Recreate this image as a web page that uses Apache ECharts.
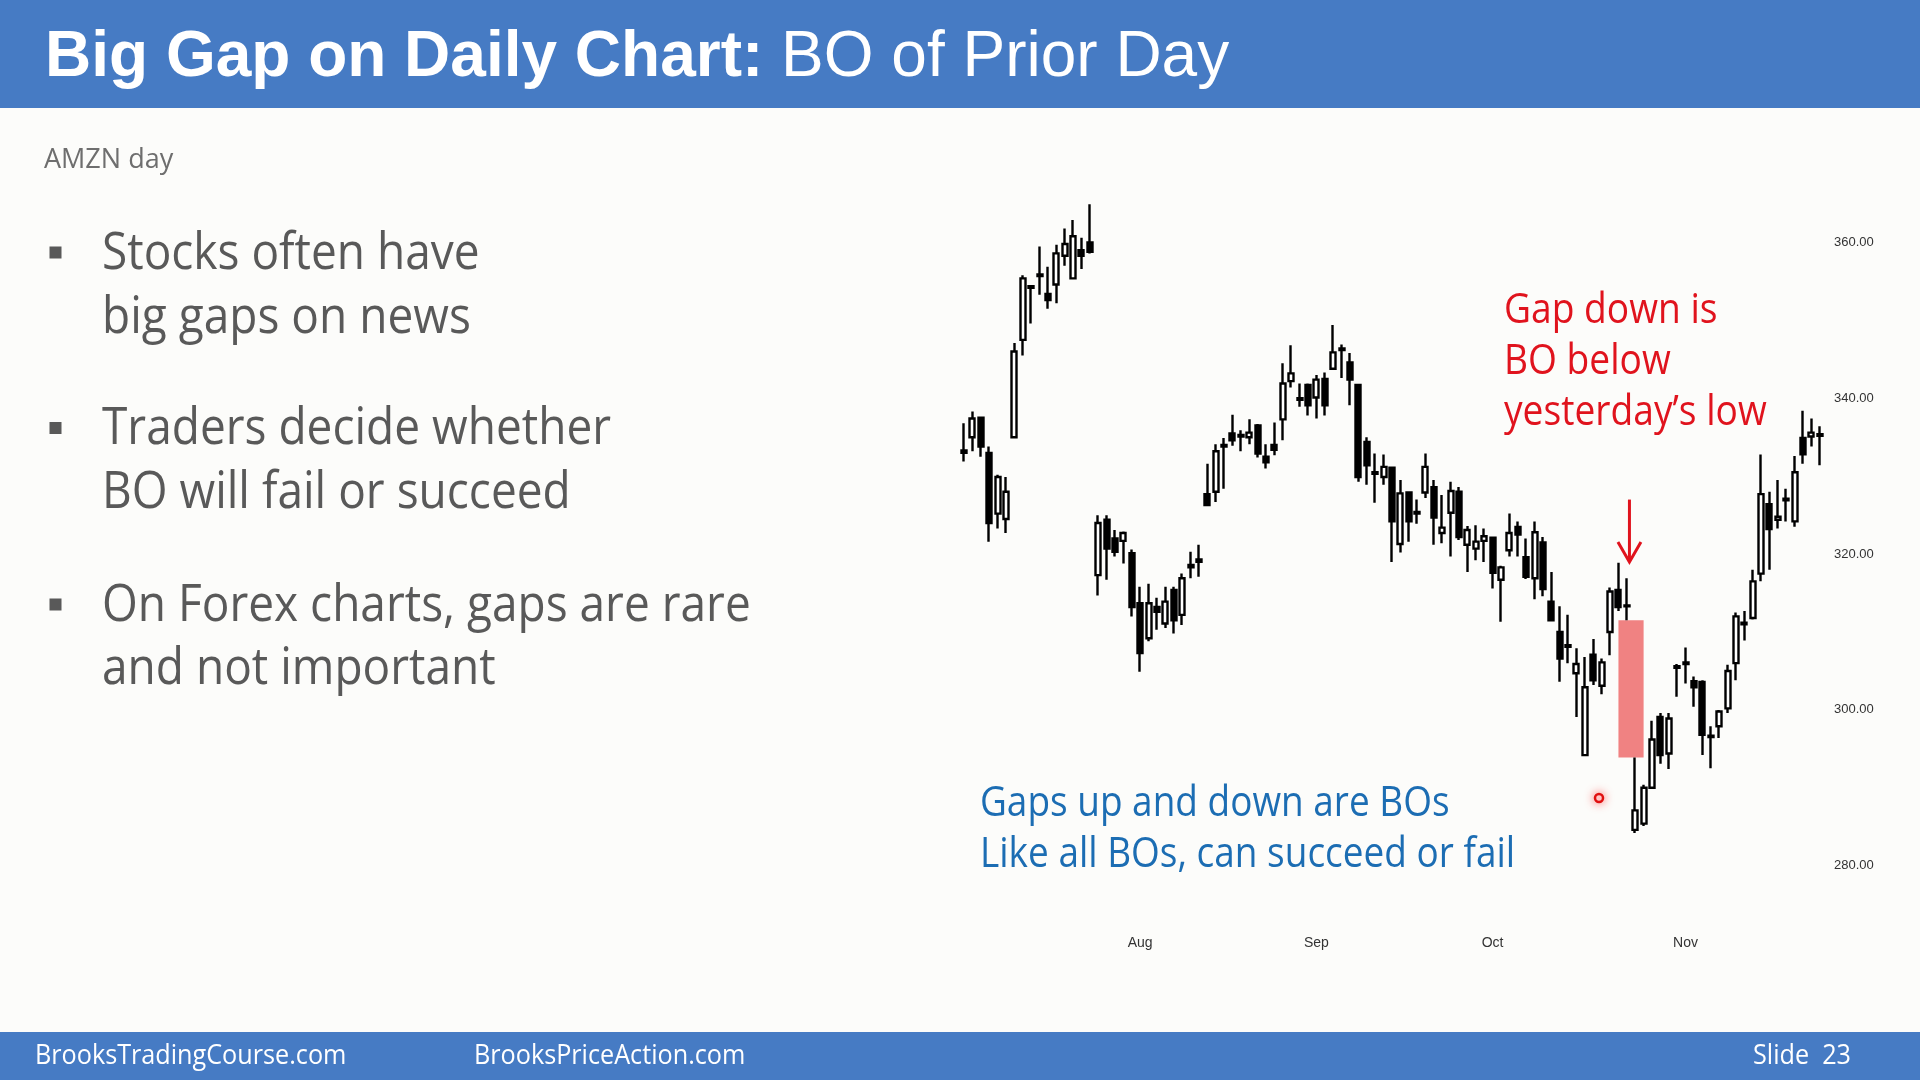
<!DOCTYPE html>
<html><head><meta charset="utf-8">
<script src="https://cdn.jsdelivr.net/npm/echarts@6.0.0/dist/echarts.min.js"></script>
<style>html,body{margin:0;padding:0;background:#fcfcfa;overflow:hidden}#c{width:1920px;height:1080px}</style>
</head><body><div id="c"></div>
<script>
// ---- data ----
const opens = [333.0,335.0,337.5,333.0,325.2,324.5,335.0,347.5,354.4,355.9,353.4,354.6,358.3,355.4,359.0,360.0,
317.3,324.4,322.0,321.7,320.1,313.7,309.2,313.2,311.1,315.4,312.2,318.3,319.0,327.7,328.0,333.8,335.5,335.1,335.0,
336.5,332.5,334.0,337.3,342.2,339.8,341.7,340.1,342.5,343.8,346.2,344.6,341.7,334.4,330.3,329.9,331.1,321.3,327.9,
325.2,327.9,328.6,322.7,325.3,328.0,321.2,320.7,321.7,322.1,316.7,320.5,323.5,319.6,316.9,321.5,313.9,310.0,308.1,
304.7,294.2,307.1,303.1,310.0,315.4,313.3,284.6,285.4,290.0,299.1,294.4,305.4,305.9,303.7,303.6,296.5,297.9,300.2,
306.0,311.0,311.8,317.5,326.4,324.4,326.9,324.2,334.9,335.1,335.2];
const closes = [333.3,337.4,333.8,324.0,329.9,328.0,346.0,355.4,354.2,355.7,352.6,358.6,359.8,360.8,358.3,358.8,
324.0,320.7,320.3,322.7,313.2,307.3,313.7,312.6,313.9,311.5,316.9,318.6,319.3,326.3,333.2,334.0,334.6,335.3,335.6,
332.9,331.8,333.4,341.9,343.2,340.0,339.1,342.4,339.1,345.9,346.4,342.4,329.9,331.4,330.5,331.2,324.2,327.8,324.2,
325.4,331.2,324.7,323.4,328.1,322.2,323.1,321.6,322.3,317.6,318.3,322.7,322.5,317.1,322.8,315.5,311.5,306.6,308.3,
305.9,302.9,303.8,306.1,315.2,313.2,313.4,287.1,290.0,296.2,294.2,298.9,305.6,306.1,302.9,296.8,296.7,299.8,305.0,
312.0,311.2,316.5,327.7,323.2,324.8,327.1,330.5,332.8,335.6,335.4];
const lows = [331.9,333.2,332.5,321.6,323.3,322.7,335.0,345.5,349.6,353.3,351.5,352.2,357.0,355.3,356.6,358.6,
314.7,316.7,319.7,318.8,312.0,304.9,308.8,310.3,310.5,309.8,310.9,316.9,317.1,326.2,326.7,328.4,333.9,333.2,334.1,
332.4,331.0,332.7,334.6,341.4,338.9,337.8,337.4,337.8,343.8,342.6,339.1,329.3,328.9,326.6,328.9,319.0,320.2,321.6,
323.9,327.2,321.2,321.4,319.7,321.8,317.7,319.2,319.0,315.6,311.3,319.7,319.7,316.8,314.2,314.6,311.5,303.6,306.0,
299.1,294.1,303.2,302.0,307.0,312.7,311.5,284.2,285.1,290.0,293.1,292.4,301.7,303.4,300.4,294.2,292.5,296.4,299.6,
303.8,308.9,311.6,316.5,318.0,323.3,324.2,323.5,331.6,333.8,331.4];
const highs = [336.8,338.3,337.6,333.8,330.2,329.9,347.1,355.8,354.5,359.5,356.9,359.7,361.8,362.9,360.6,364.9,
325.0,325.0,323.1,322.9,320.6,315.8,316.2,314.4,315.8,315.8,317.5,320.3,321.2,331.6,334.1,334.9,337.9,335.9,337.3,
336.7,334.1,336.9,344.5,346.8,341.9,341.9,343.0,343.3,349.4,346.9,345.8,341.7,335.0,332.9,332.8,331.2,329.5,328.0,
327.0,332.9,329.5,327.6,329.3,328.6,323.6,323.7,323.3,322.2,318.5,325.2,324.2,322.0,324.2,322.2,317.7,313.3,312.2,
307.9,306.8,309.1,306.6,315.7,318.9,316.9,293.9,290.4,298.6,299.6,299.6,305.9,308.0,304.3,303.8,297.9,300.0,305.8,
312.5,312.7,318.0,332.8,328.0,329.5,328.4,332.6,338.4,337.4,336.4];
const monthTicks = {21: 'Aug', 42: 'Sep', 63: 'Oct', 86: 'Nov'};
const yTickLabels = [280, 300, 320, 340, 360];
const gapBefore = 79;   // last bar before the gap (0-based)
const gapBar = 80;      // gap-down bar
const arrowValues = [327, 319];

const categories = opens.map((_, i) => 'D' + (i + 1));
const ohlc = opens.map((o, i) => [o, closes[i], lows[i], highs[i]]);

const chart = echarts.init(document.getElementById('c'), null, {renderer: 'canvas', width: 1920, height: 1080});
const BODY = '"Open Sans", "Noto Sans", sans-serif';
const NARROW = '"Liberation Sans Narrow", "Liberation Sans", Arial, sans-serif';
const SX = 0.885;
const DY = 2.5;

function txt(text, x, y, size, fill, extra) {
  return Object.assign({type: 'text', x: x, y: y + DY, scaleX: SX, z: 10,
    style: {text: text, font: size + 'px ' + BODY, fill: fill, align: 'left', verticalAlign: 'middle'}}, extra || {});
}

const graphics = [
  {type: 'rect', shape: {x: 0, y: 0, width: 1920, height: 108}, style: {fill: '#467bc4'}, z: 1},
  {type: 'rect', shape: {x: 0, y: 1032, width: 1920, height: 48}, style: {fill: '#467bc4'}, z: 1},
  {type: 'text', x: 45, y: 58.5, z: 10, style: {
    text: '{b|Big Gap on Daily Chart:} BO of Prior Day',
    font: '64px "Liberation Sans", Arial, sans-serif', fill: '#ffffff', verticalAlign: 'middle',
    rich: {b: {font: 'bold 64px "Liberation Sans", Arial, sans-serif', fill: '#ffffff'}}}},
  Object.assign(txt('AMZN day', 44, 158, 27, '#6e6e6e'), {scaleX: 1}),
  {type: 'rect', shape: {x: 49.5, y: 246.5, width: 12, height: 12}, style: {fill: '#595959'}},
  {type: 'rect', shape: {x: 49.5, y: 422, width: 12, height: 12}, style: {fill: '#595959'}},
  {type: 'rect', shape: {x: 49.5, y: 598.5, width: 12, height: 12}, style: {fill: '#595959'}},
  txt('Stocks often have', 102, 252, 52, '#595959'),
  txt('big gaps on news', 102, 316, 52, '#595959'),
  txt('Traders decide whether', 102, 427, 52, '#595959'),
  txt('BO will fail or succeed', 102, 491, 52, '#595959'),
  txt('On Forex charts, gaps are rare', 102, 604, 52, '#595959'),
  txt('and not important', 102, 667, 52, '#595959'),
  txt('Gap down is', 1504, 309, 42, '#e0131d'),
  txt('BO below', 1504, 360, 42, '#e0131d'),
  txt('yesterday\u2019s low', 1504, 411, 42, '#e0131d'),
  txt('Gaps up and down are BOs', 980, 802, 42, '#1c6db3', {scaleX: 0.88}),
  txt('Like all BOs, can succeed or fail', 980, 853, 42, '#1c6db3', {scaleX: 0.88}),
  Object.assign(txt('BrooksTradingCourse.com', 35, 1054, 28, '#ffffff'), {scaleX: 0.9}),
  Object.assign(txt('BrooksPriceAction.com', 474, 1054, 28, '#ffffff'), {scaleX: 0.9}),
  {type: 'text', x: 1851, y: 1054 + DY, scaleX: 0.9, z: 10, style: {text: 'Slide  23', font: '28px ' + BODY, fill: '#ffffff', align: 'right', verticalAlign: 'middle'}},
  {type: 'circle', shape: {cx: 1599, cy: 798, r: 4}, style: {fill: '#ffe8e8', stroke: '#e01010', lineWidth: 2.5, shadowBlur: 10, shadowColor: 'rgba(255,40,40,0.6)'}, z: 20}
];

chart.setOption({
  animation: false,
  backgroundColor: '#fcfcfa',
  grid: {left: 959.8, right: 96, top: 86.7, bottom: 214.3, containLabel: false, outerBoundsMode: 'none'},
  xAxis: {
    type: 'category', data: categories, boundaryGap: true,
    axisLine: {show: false}, axisTick: {show: false}, splitLine: {show: false},
    axisLabel: {
      interval: (idx) => monthTicks[idx] !== undefined,
      formatter: (v, idx) => monthTicks[idx] || '',
      margin: 70, color: '#333', fontSize: 14, fontFamily: NARROW, hideOverlap: false
    }
  },
  yAxis: {
    type: 'value', position: 'right', min: 280, max: 380, interval: 20, scale: true,
    axisLine: {show: false}, axisTick: {show: false}, splitLine: {show: false},
    axisLabel: {
      formatter: (v) => yTickLabels.indexOf(v) >= 0 ? v.toFixed(2) : '',
      margin: 10, color: '#333', fontSize: 13, fontFamily: NARROW
    }
  },
  series: [{
    type: 'candlestick', data: ohlc, barWidth: 5.5,
    itemStyle: {color: '#ffffff', color0: '#000000', borderColor: '#000000', borderColor0: '#000000', borderColorDoji: '#000000', borderWidth: 2.4},
    markArea: {
      silent: true,
      itemStyle: {color: '#f08282', opacity: 1},
      data: [[{xAxis: categories[gapBefore - 1], yAxis: lows[gapBefore]}, {xAxis: categories[gapBar + 1], yAxis: highs[gapBar]}]]
    }
  }],
  graphic: graphics
});

// red arrow pointing to the bar before the gap
const pTop = chart.convertToPixel({seriesIndex: 0}, [gapBefore - 1, arrowValues[0]]);
const pTip = chart.convertToPixel({seriesIndex: 0}, [gapBefore - 1, arrowValues[1]]);
const ax = pTop[0] + 11;
graphics.push(
  {type: 'line', shape: {x1: ax, y1: pTop[1], x2: ax, y2: pTip[1]}, style: {stroke: '#e0131d', lineWidth: 3}, z: 15},
  {type: 'polyline', shape: {points: [[ax - 11.5, pTip[1] - 20], [ax, pTip[1]], [ax + 11.5, pTip[1] - 20]]}, style: {stroke: '#e0131d', lineWidth: 3, fill: null}, z: 15}
);
chart.setOption({graphic: graphics});
</script>
</body></html>
